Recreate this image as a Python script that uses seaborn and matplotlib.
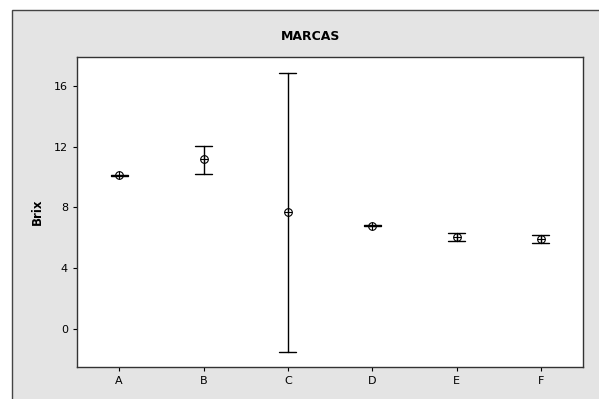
import matplotlib
matplotlib.use("Agg")
import matplotlib.pyplot as plt
import matplotlib.patches as mpatches
import numpy as np
import pandas as pd
import seaborn as sns

# interval plot values (mean and interval ends)
marcas = ["A", "B", "C", "D", "E", "F"]
media = [10.13, 11.18, 7.68, 6.80, 6.03, 5.90]
inferior = [10.10, 10.20, -1.49, 6.77, 5.77, 5.64]
superior = [10.16, 12.06, 16.82, 6.83, 6.30, 6.16]

# long table: low / mean / high per brand, median = mean, min/max = interval
rows = []
for m, lo, mu, hi in zip(marcas, inferior, media, superior):
    for v in (lo, mu, hi):
        rows.append({"marca": m, "Brix": v})
df = pd.DataFrame(rows)

sns.set_style("white")
plt.rcParams["font.family"] = ["DejaVu Sans"]

fig = plt.figure(figsize=(5.99, 3.99), dpi=100)

# grey outer frame like Minitab
frame = mpatches.Rectangle((12 / 599, -0.02), 0.99, 1 - 10 / 399 + 0.02,
                           transform=fig.transFigure, facecolor="#e4e4e4",
                           edgecolor="#444444", linewidth=1.0, zorder=-5)
fig.patches.append(frame)

ax = fig.add_axes([77 / 599, 1 - 367 / 399, (583 - 77) / 599, (367 - 57) / 399])
ax.set_facecolor("white")
ax.set_zorder(2)

sns.pointplot(
    data=df, x="marca", y="Brix", order=marcas,
    estimator="median",
    errorbar=lambda v: (v.min(), v.max()),
    linestyle="none", capsize=0.2, color="black",
    markers="o", markersize=5.5, markerfacecolor="white",
    markeredgecolor="black", markeredgewidth=0.8,
    err_kws={"linewidth": 1.0}, ax=ax,
)
# cross inside the circles
sns.scatterplot(
    x=marcas, y=media, marker="+", s=30, color="black",
    linewidth=0.8, ax=ax, zorder=5, legend=False,
)

ax.set_xlim(-0.5, 5.5)
ax.set_ylim(-2.5, 17.9)
ax.set_yticks([0, 4, 8, 12, 16])
ax.set_xlabel("")
ax.set_ylabel("Brix", fontsize=8.5, fontweight="bold", labelpad=7, color="black")
ax.tick_params(axis="both", direction="out", length=3, width=0.8,
               labelsize=8, colors="black", left=True, bottom=True)
for s in ax.spines.values():
    s.set_color("#333333")
    s.set_linewidth(1.0)

fig.text(311 / 599, 1 - 37 / 399, "MARCAS", ha="center", va="center",
         fontsize=9, fontweight="bold", color="black", zorder=3)

fig.savefig("out.png", dpi=100)
